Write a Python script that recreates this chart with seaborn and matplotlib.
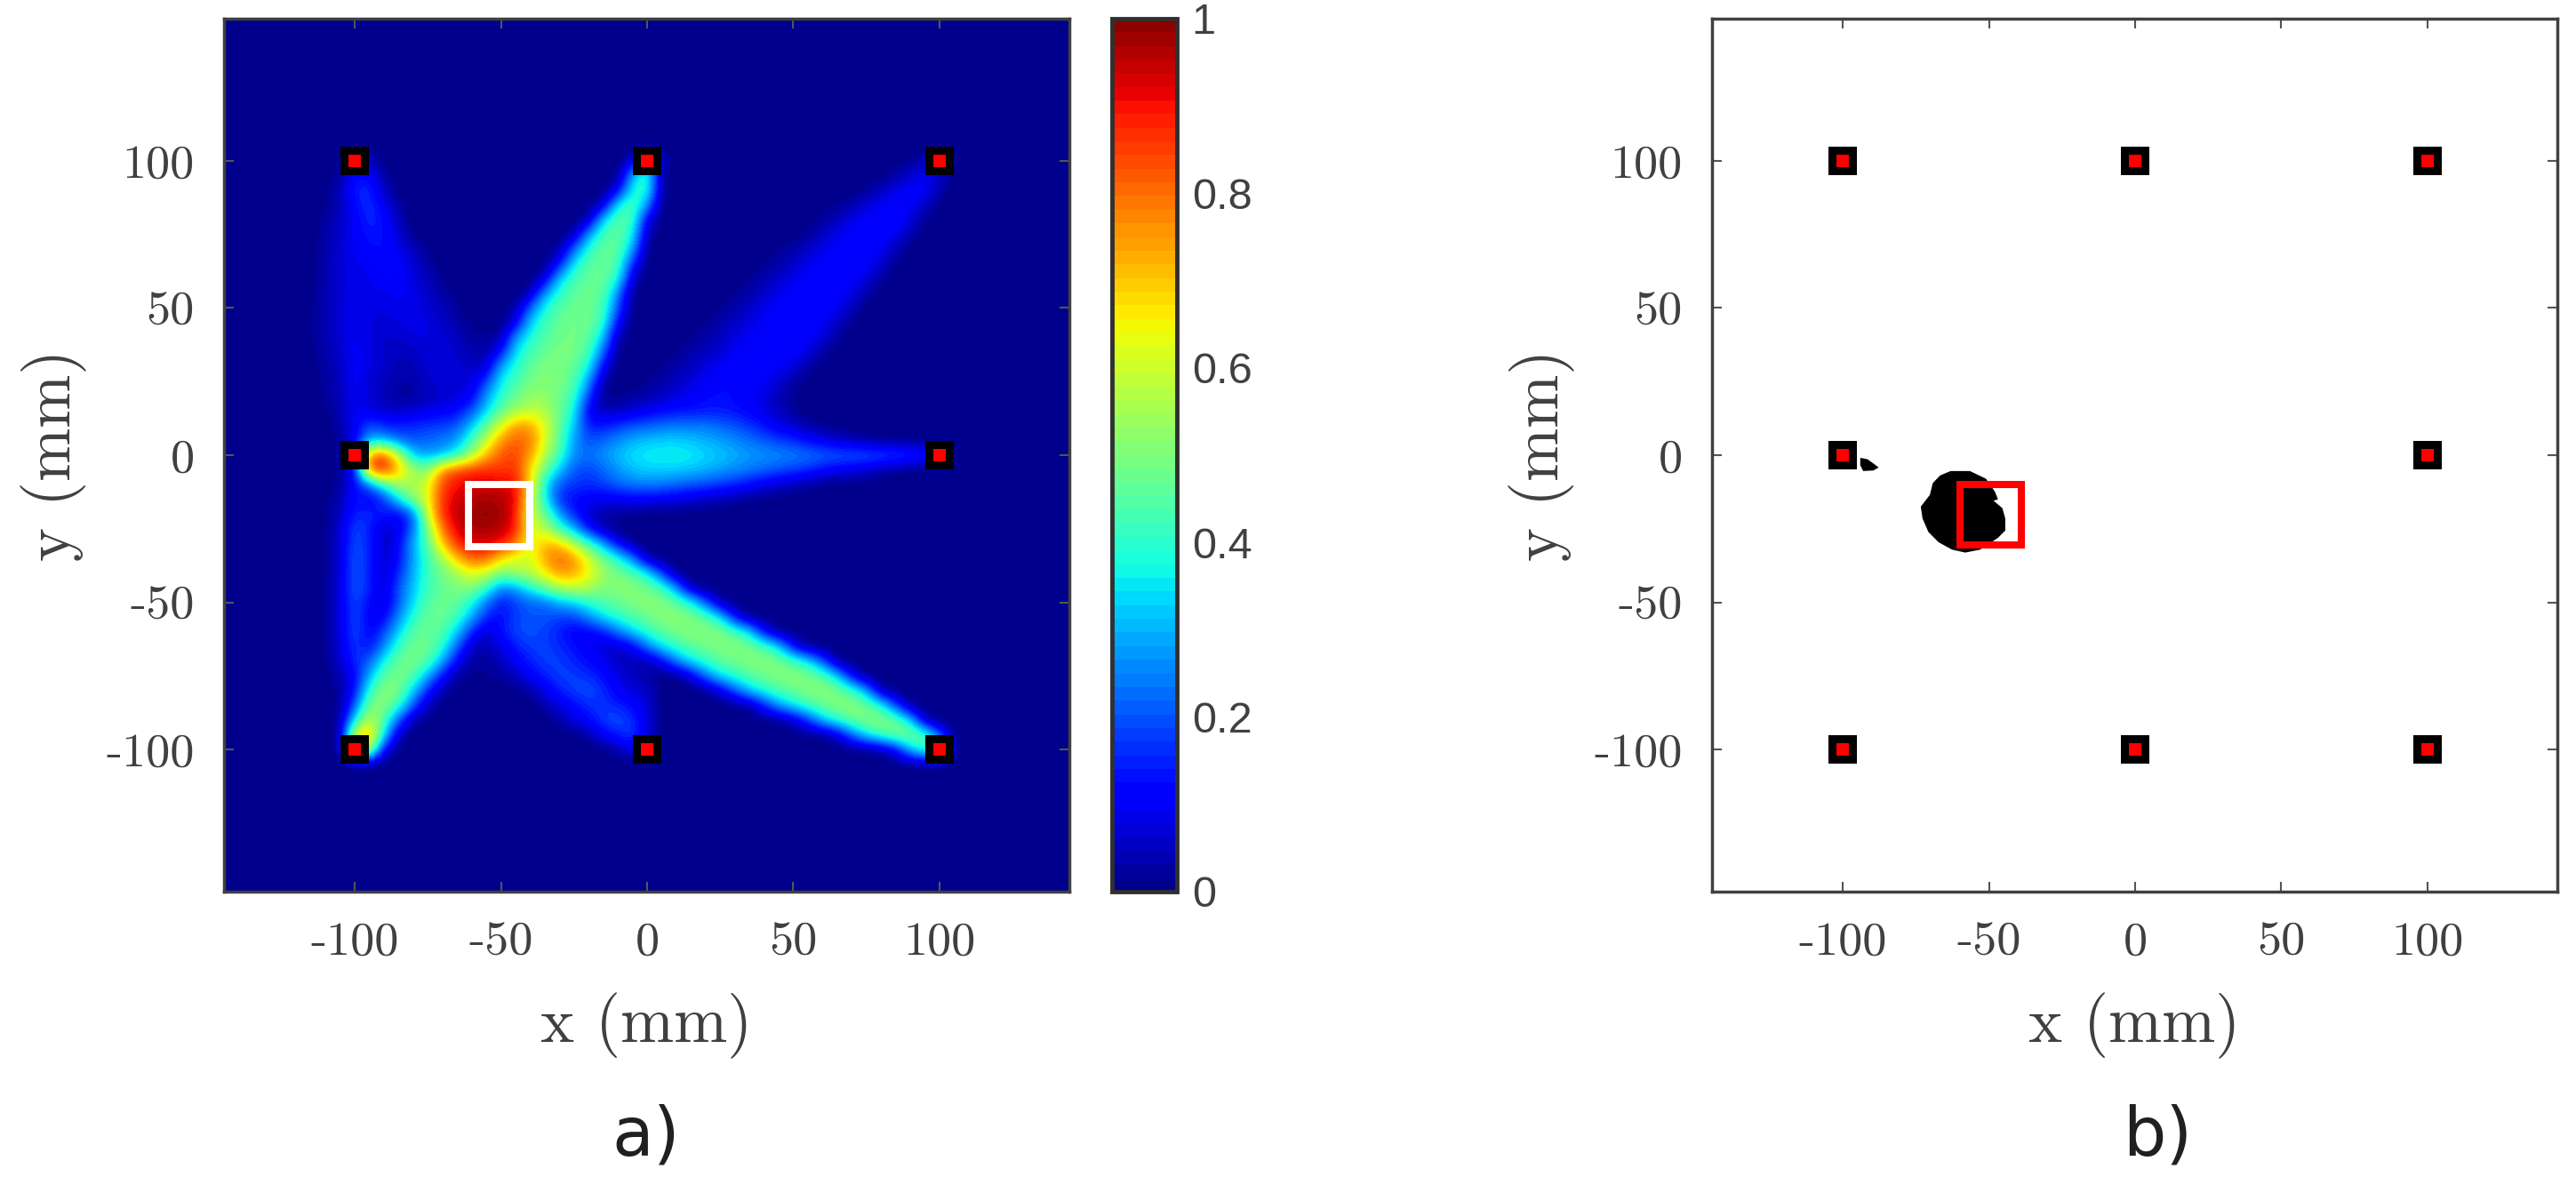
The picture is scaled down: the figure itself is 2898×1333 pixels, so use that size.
import numpy as np
import matplotlib
matplotlib.use("Agg")
import matplotlib.pyplot as plt
from matplotlib.colors import ListedColormap
from matplotlib.patches import Rectangle
import seaborn as sns
import pandas as pd

# Map values (x 100) on a 5 mm grid.
# For each y: runs of (first x, values); everything else is 0.
field_rows = {
100: [(-105,[2,8,6]), (-5,[5,35,5]), (90,[1,4,8])],
95: [(-105,[2,12,12,3]), (-5,[30,45]), (85,[2,7,10,6])],
90: [(-110,[1,4,15,16,5]), (-10,[8,38,42]), (75,[2,5,9,11,11,4])],
85: [(-110,[1,4,12,17,10,2]), (-15,[5,38,45,28]), (65,[1,3,7,10,12,11,6])],
80: [(-110,[2,6,10,16,13,5]), (-20,[3,35,45,44,8]), (60,[2,5,9,11,12,12,8,1])],
75: [(-110,[3,6,10,14,13,7,1]), (-25,[3,28,43,47,38,3]), (55,[2,5,9,11,12,12,10,4])],
70: [(-110,[3,7,10,12,13,9,5,1]), (-30,[2,22,40,47,47,30]), (45,[1,3,6,9,11,12,12,10,4])],
65: [(-110,[4,7,9,10,12,11,7,3]), (-30,[12,36,45,48,44,15]), (40,[1,3,6,9,11,12,12,11,7,1])],
60: [(-110,[4,7,9,9,11,11,8,5,1]), (-35,[6,33,43,47,48,40,5]), (35,[1,4,6,9,11,12,12,11,8,2])],
55: [(-110,[4,7,9,9,9,10,9,6,3]), (-40,[3,28,40,46,48,46,25]), (30,[1,3,6,9,11,12,12,11,9,3])],
50: [(-115,[1,4,7,10,8,8,9,9,7,5,2]), (-45,[2,22,38,45,48,48,44,20]), (25,[1,3,6,9,11,12,12,12,10,5])],
45: [(-115,[1,4,7,10,8,7,8,9,8,6,3,1]), (-45,[8,33,42,47,49,48,42,10]), (20,[1,3,6,8,10,12,12,12,10,6])],
40: [(-115,[1,4,7,10,8,6,6,8,8,7,5,2]), (-55,[2,2,28,38,45,48,49,47,32,3]), (15,[1,3,5,8,10,12,12,12,11,8,2])],
35: [(-115,[1,3,6,11,8,6,5,5,8,8,6,4]), (-55,[3,12,35,43,47,50,49,44,22]), (10,[1,3,5,7,10,12,12,12,11,8,3])],
30: [(-115,[0,3,5,11,8,6,4,4,7,8,7,5,5]), (-50,[30,39,46,50,50,47,38,10]), (5,[1,3,5,8,10,12,12,12,10,8,3])],
25: [(-110,[2,5,11,7,5,3,3,6,8,8,7,18,36,43,49,51,50,45,28,2]), (0,[1,3,5,8,10,12,13,12,10,7,3])],
20: [(-110,[2,4,11,7,4,2,2,4,6,7,9,28,40,47,53,53,48,42,18]), (-10,[1,2,3,5,8,10,12,13,12,10,8,4,1])],
15: [(-110,[1,4,10,8,6,6,7,9,10,12,20,33,46,55,58,57,48,38,8,5,5,7,10,12,13,13,14,14,13,11,8,5,2])],
10: [(-105,[3,10,20,15,15,16,17,18,20,32,46,62,75,75,62,47,32,14,14,17,20,21,23,24,24,24,22,20,17,13,9,6,3,1])],
5: [(-105,[2,8,30,30,22,20,22,24,28,42,58,76,82,80,62,46,27,19,22,26,30,32,33,33,32,30,28,26,23,21,18,16,12,9,6,4,2])],
0: [(-105,[2,8,80,85,60,32,28,30,38,55,72,83,85,75,58,42,26,23,27,31,35,36,37,37,36,34,32,30,28,27,26,25,24,23,22,22,22,21,20,18,14,8])],
-5: [(-105,[2,10,85,90,72,55,50,78,85,87,88,85,88,68,48,32,20,18,22,27,31,33,33,33,32,30,28,26,24,22,20,18,16,12,10,8,6,3,1])],
-10: [(-105,[2,12,20,42,55,55,62,85,90,93,93,93,90,70,35,20,17,16,18,22,24,25,24,22,20,19,17,15,12,9,6,4,2])],
-15: [(-110,[1,3,14,10,15,35,52,62,88,93,96,97,96,93,62,38,15,12,10,9,9,10,10,9,8,7,5,4,2,1])],
-20: [(-110,[1,5,15,15,15,10,20,60,88,95,98,100,98,90,60,48,28,14,6,3,2,1])],
-25: [(-110,[1,6,20,15,6,8,22,50,80,93,97,97,96,90,62,58,42,30,12,3])],
-30: [(-110,[1,7,20,15,5,10,30,45,70,88,93,93,90,80,62,72,70,56,42,28,10,1])],
-35: [(-110,[1,7,22,15,5,12,28,42,55,72,82,82,68,62,60,74,82,76,62,48,39,25,2])],
-40: [(-110,[1,7,22,15,5,15,30,42,48,55,63,60,50,55,58,66,76,74,65,54,49,45,37,17])],
-45: [(-110,[1,8,22,15,6,20,32,42,47,50,52,42,25,28,38,48,56,60,57,50,52,52,48,43,27,2])],
-50: [(-110,[1,8,20,12,6,20,34,45,48,47,38,24,13,18,22,22,30,33,40,44,47,50,52,51,46,39,21,2])],
-55: [(-110,[1,8,20,10,10,26,40,47,48,42,30,15,12,18,20,20,18,18,26,35,40,44,48,51,52,50,45,36,11])],
-60: [(-110,[1,8,20,10,18,33,45,48,45,33,15,5,13,19,20,18,14,10,10,13,24,33,40,46,49,51,52,50,44,35,11])],
-65: [(-110,[1,7,18,12,25,42,48,48,40,22,5,4,8,14,18,18,16,13,10,7,5,9,24,35,41,46,48,51,52,49,44,35,11])],
-70: [(-110,[1,6,16,20,38,47,50,45,30,10,2,2,5,10,15,18,18,15,12,10,5,5,3,10,25,35,41,46,48,51,52,49,44,36,21])],
-75: [(-105,[4,10,30,46,50,45,30,12,2,1,1,2,5,10,15,18,18,16,13,8,5,3,0,0,7,23,35,40,45,48,51,52,50,45,35,10])],
-80: [(-105,[2,12,40,52,50,33,14,3]), (-40,[3,8,15,18,20,16,10,7,6]), (25,[7,20,32,39,44,47,51,52,49,43,30,2])],
-85: [(-105,[1,20,50,52,42,20,5]), (-35,[3,8,12,16,17,15,12,8]), (35,[2,14,28,36,42,47,51,52,48,40,18])],
-90: [(-105,[1,35,60,45,20,3]), (-30,[3,8,12,18,20,16,8]), (50,[5,17,32,40,47,51,52,47,35,2])],
-95: [(-105,[1,65,75,35,5]), (-20,[3,10,15,18,8]), (65,[6,22,35,44,50,51,46,20])],
-100: [(-105,[0,70,60,10]), (-10,[3,10,6]), (80,[2,10,32,43,50])],
}

sensor_x = [-100, 0, 100, -100, 100, -100, 0, 100]
sensor_y = [100, 100, 100, 0, 0, -100, -100, -100]
target_x = [-61, -40]
target_y = [-31, -10]
target_b_x = [-60, -39]
target_b_y = [-30.5, -10]

blob_x = [-63.1,-56.5,-51.0,-47.9,-46.9,-48.4,-45.4,-44.4,-44.4,-46.9,-53.0,-58.1,-62.6,-67.2,-70.7,-72.7,-73.3,-70.2,-69.2,-66.7]
blob_y = [-5.4,-5.4,-8.0,-12.5,-15.0,-15.5,-18.0,-21.5,-25.6,-28.1,-32.1,-33.1,-32.1,-29.6,-26.1,-21.5,-17.5,-13.5,-9.5,-6.9]
spot_x = [-94,-91.5,-89,-87.7,-89.5,-93,-94]
spot_y = [-0.9,-1.4,-3.2,-4.2,-5.2,-5.4,-3.4]

ticks = [-100, -50, 0, 50, 100]
tick_labels = ["-100", "-50", "0", "50", "100"]
cbar_ticks = [0, 0.2, 0.4, 0.6, 0.8, 1]
cbar_labels = ["0", "0.2", "0.4", "0.6", "0.8", "1"]
xlim = (-144.7, 144.4)
ylim = (-148.3, 148.3)

sns.set_theme(style="white", rc={"axes.linewidth": 2.5, "axes.edgecolor": "#404040"})
W, H = 2898, 1333
fig = plt.figure(figsize=(W/100, H/100), dpi=100, facecolor="white")

def box(l, r, t=21, b=1003):
    return [l/W, (H-b)/H, (r-l)/W, (b-t)/H]

axa = fig.add_axes(box(252, 1203))
axb = fig.add_axes(box(1926, 2877))
cax = fig.add_axes(box(1251, 1324))

jet = ListedColormap(sns.mpl_palette("jet", 64))
step = 5
reach = 150
n = 2*reach//step + 1
values = np.zeros((n, n))
for y, runs in field_rows.items():
    row = (reach - y)//step
    for first_x, vals in runs:
        col = (first_x + reach)//step
        values[row, col:col+len(vals)] = np.array(vals) / 100
half = reach + step/2
im = axa.imshow(values, cmap=jet, vmin=0, vmax=1, extent=(-half, half, -half, half),
                interpolation="bicubic", aspect="auto", origin="upper")

axb.fill(blob_x, blob_y, color="black", lw=0, zorder=2)
axb.fill(spot_x, spot_y, color="black", lw=0, zorder=2)

sensors = pd.DataFrame({"x": sensor_x, "y": sensor_y})
for ax in (axa, axb):
    sns.scatterplot(data=sensors, x="x", y="y", ax=ax, marker="s", s=530, color="black",
                    linewidth=0, zorder=4, legend=False)
    sns.scatterplot(data=sensors, x="x", y="y", ax=ax, marker="s", s=110, color="#ff0000",
                    linewidth=0, zorder=5, legend=False)

axa.add_patch(Rectangle((target_x[0], target_y[0]), target_x[1]-target_x[0], target_y[1]-target_y[0],
                        fill=False, ec="white", lw=5.8, zorder=6, joinstyle="miter"))
axb.add_patch(Rectangle((target_b_x[0], target_b_y[0]), target_b_x[1]-target_b_x[0], target_b_y[1]-target_b_y[0],
                        fill=False, ec="#ff0000", lw=5.8, zorder=6, joinstyle="miter"))

serif = "cmr10"
for ax in (axa, axb):
    ax.set_xlim(*xlim)
    ax.set_ylim(*ylim)
    ax.set_xticks(ticks)
    ax.set_yticks(ticks)
    ax.set_xticklabels(tick_labels, family=serif, fontsize=39, color="#404040")
    ax.set_yticklabels(tick_labels, family=serif, fontsize=39, color="#404040")
    ax.tick_params(direction="in", length=8, width=1.5, color="#555555", top=True, right=True,
                   bottom=True, left=True, pad=24)
    ax.set_xlabel("x (mm)", family=serif, fontsize=52, color="#404040", labelpad=24)
    ax.set_ylabel("y (mm)", family=serif, fontsize=52, color="#404040", labelpad=15)
    for s in ax.spines.values():
        s.set_zorder(10)

cb = fig.colorbar(im, cax=cax, ticks=cbar_ticks)
cb.ax.set_yticklabels(cbar_labels, family="Liberation Sans", fontsize=35, color="#404040")
cb.ax.tick_params(direction="in", length=11, width=2.5, color="#404040", right=True, pad=12)
cb.outline.set_linewidth(3.5)
cb.outline.set_edgecolor("#303030")

fig.text(727/W, 1-1279/H, "a)", family="DejaVu Sans", fontsize=55, color="#202020", ha="center", va="center")
fig.text(2427/W, 1-1279/H, "b)", family="DejaVu Sans", fontsize=55, color="#202020", ha="center", va="center")

fig.savefig("out.png", dpi=100, facecolor="white")
